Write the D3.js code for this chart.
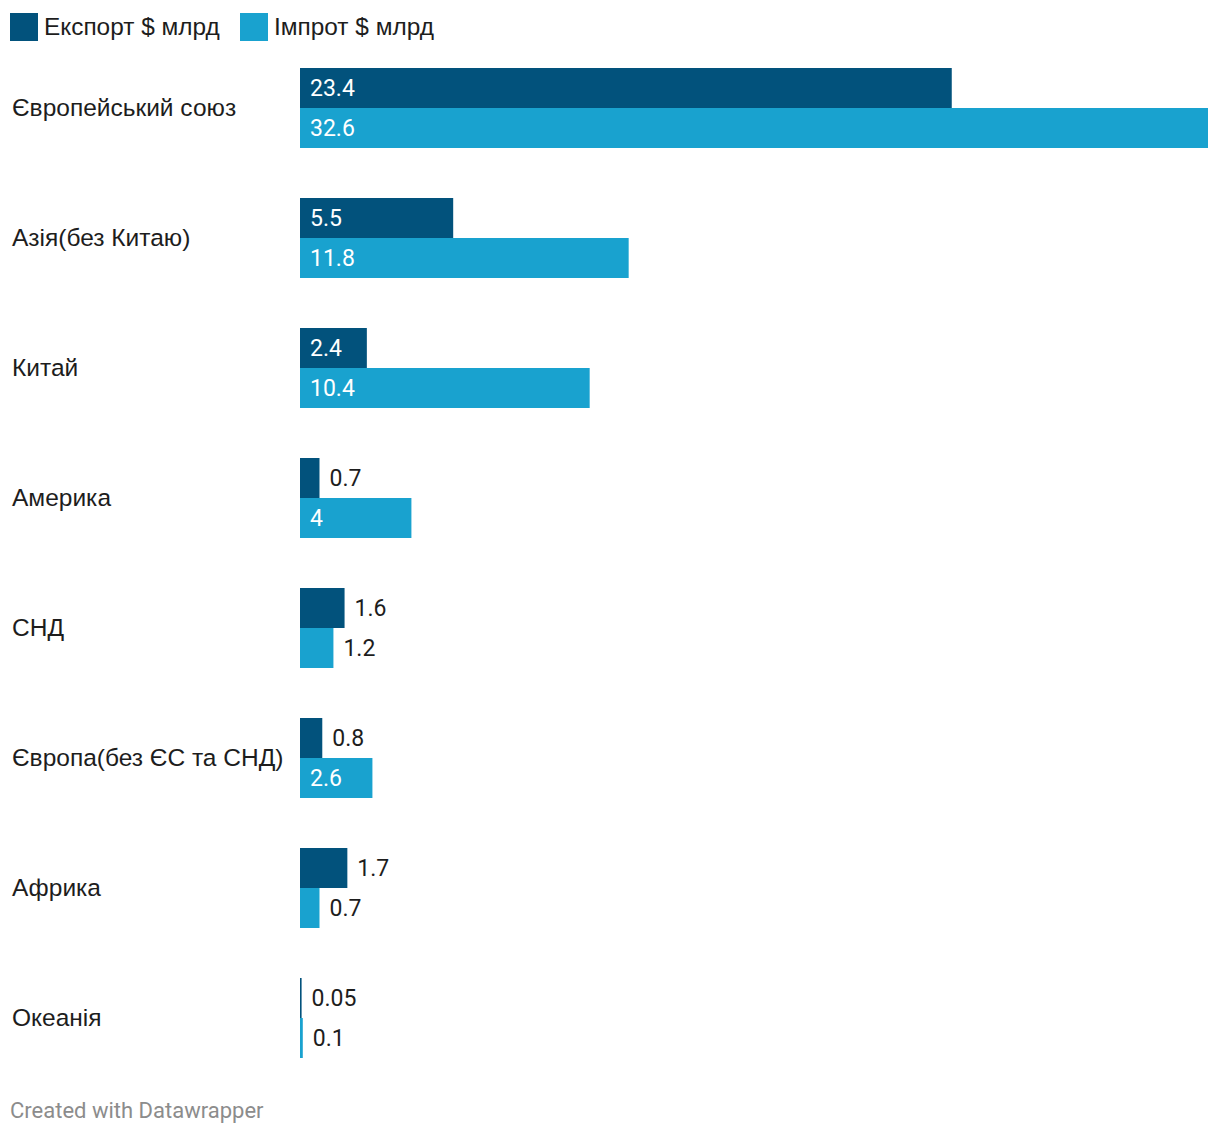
<!DOCTYPE html>
<html>
<head>
<meta charset="utf-8">
<script src="https://cdn.jsdelivr.net/npm/d3@7"></script>
<style>
  body { margin: 0; background: #fff; }
</style>
</head>
<body>
<div id="chart"></div>
<script>
// categories and values
const regions = ['Європейський союз', 'Азія(без Китаю)', 'Китай', 'Америка', 'СНД',
  'Європа(без ЄС та СНД)', 'Африка', 'Океанія'];
const exportValues = [23.4, 5.5, 2.4, 0.7, 1.6, 0.8, 1.7, 0.05];
const importValues = [32.6, 11.8, 10.4, 4, 1.2, 2.6, 0.7, 0.1];
const seriesNames = ['Експорт $ млрд', 'Імпрот $ млрд'];
const seriesColors = ['#02527c', '#19a2cf'];

const width = 1220;
const height = 1136;
const barLeft = 300;
const barRight = 1208;
const chartTop = 68;
const groupStep = 130;
const barH = 40;

const sansFont = '"Liberation Sans", Arial, Helvetica, sans-serif';
const numFont = 'Roboto, "Liberation Sans", Arial, sans-serif';

const svg = d3.select('#chart')
  .append('svg')
  .attr('width', width)
  .attr('height', height);

// legend
const legend = svg.append('g');
const legendX = [10, 240];
seriesNames.forEach(function (name, i) {
  legend.append('rect')
    .attr('x', legendX[i]).attr('y', 13)
    .attr('width', 28).attr('height', 28)
    .attr('fill', seriesColors[i]);
  legend.append('text')
    .attr('x', legendX[i] + 34).attr('y', 35)
    .style('font-family', sansFont)
    .attr('font-size', 24.4)
    .attr('fill', '#1d1d1d')
    .text(name);
});

const x = d3.scaleLinear()
  .domain([0, d3.max(importValues)])
  .range([barLeft, barRight]);

const y = d3.scaleBand()
  .domain(regions)
  .range([chartTop, chartTop + groupStep * regions.length])
  .paddingInner(0);

const rows = regions.map(function (r, i) {
  return { region: r, values: [exportValues[i], importValues[i]] };
});

const groups = svg.append('g')
  .selectAll('g')
  .data(rows)
  .join('g')
  .attr('transform', d => `translate(0,${y(d.region)})`);

// category labels
groups.append('text')
  .attr('x', 12)
  .attr('y', barH + 8)
  .style('font-family', sansFont)
  .attr('font-size', 24.5)
  .attr('fill', '#1d1d1d')
  .text(d => d.region);

// bars and value labels
groups.each(function (d) {
  const g = d3.select(this);
  d.values.forEach(function (v, i) {
    const w = x(v) - x(0);
    g.append('rect')
      .attr('x', x(0))
      .attr('y', i * barH)
      .attr('width', Math.max(w, 1.6))
      .attr('height', barH)
      .attr('fill', seriesColors[i]);

    const label = g.append('text')
      .attr('y', i * barH + barH / 2 + 8)
      .style('font-family', numFont)
      .attr('font-size', 23)
      .text(String(v));
    const tw = label.node().getComputedTextLength();
    if (w > tw + 20) {
      label.attr('x', x(0) + 10).attr('fill', '#ffffff');
    } else {
      label.attr('x', x(0) + Math.max(w, 1.6) + 10).attr('fill', '#1d1d1d');
    }
  });
});

// footer
svg.append('text')
  .attr('x', 10)
  .attr('y', 1118)
  .style('font-family', numFont)
  .attr('font-size', 22)
  .attr('fill', '#8c8c8c')
  .text('Created with Datawrapper');
</script>
</body>
</html>
